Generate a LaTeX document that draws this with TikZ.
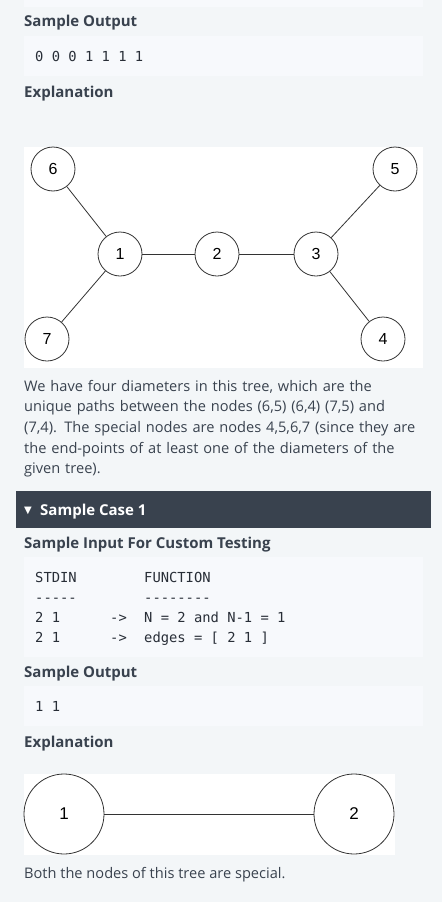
\documentclass[tikz,border=0pt]{standalone}
\usepackage{fontspec}
\usepackage{xcolor}
\setmainfont{Open Sans}
\setmonofont{DejaVu Sans Mono}
\newfontfamily\labelfont{Liberation Sans}
\newfontfamily\symfont{DejaVu Sans}
\usetikzlibrary{positioning}
\definecolor{PageBg}{HTML}{F3F6F8}
\definecolor{CodeBg}{HTML}{F7F9FC}
\definecolor{InkGray}{HTML}{39424E}
\definecolor{EdgeGray}{HTML}{333333}
\tikzset{
  heading/.style={anchor=base west, inner sep=0pt, text=InkGray,
                  font=\fontsize{15}{18}\selectfont\bfseries},
  bodytext/.style={anchor=base west, inner sep=0pt, text=InkGray,
                   font=\fontsize{14.6}{20.7}\selectfont},
  codetext/.style={anchor=base west, inner sep=0pt, text=InkGray!70!black,
                   font=\ttfamily\fontsize{13.8}{20}\selectfont},
  codebox/.style={fill=CodeBg, draw=none},
  vertex/.style={circle, draw=EdgeGray, line width=0.8pt, fill=white,
                 minimum size=44pt, inner sep=0pt,
                 font=\labelfont\fontsize{16}{16}\selectfont},
  bigvertex/.style={vertex, minimum size=80pt,
                    font=\labelfont\fontsize{17}{17}\selectfont},
  edge/.style={draw=EdgeGray, line width=0.8pt}
}

\begin{document}
\begin{tikzpicture}[x=1pt, y=-1pt]
\fill[PageBg] (0,0) rectangle (442,902);
\useasboundingbox (0,0) rectangle (442,902);

\fill[codebox] (24,0) rectangle (423,7);
\node[heading] (outhead) at (24,27) {Sample Output};
\fill[codebox] (24,36) rectangle (423,76);
\node[codetext] (outcode) at (35,61) {0 0 0 1 1 1 1};
\node[heading] (explhead) at (24,97) {Explanation};

\fill[white] (24,147) rectangle (423,368);
\node[vertex] (v6) at (53,169) {6};
\node[vertex] (v1) at (120,254) {1};
\node[vertex] (v2) at (217,254) {2};
\node[vertex] (v3) at (316,254) {3};
\node[vertex] (v5) at (395,169) {5};
\node[vertex] (v7) at (47,339) {7};
\node[vertex] (v4) at (383,339) {4};
\draw[edge] (v6) -- (v1);
\draw[edge] (v7) -- (v1);
\draw[edge] (v1) -- (v2);
\draw[edge] (v2) -- (v3);
\draw[edge] (v3) -- (v5);
\draw[edge] (v3) -- (v4);

\node[bodytext, text width=414pt, align=left] (diam) at (24,391) {
    We have four diameters in this tree, which are the\\
    unique paths between the nodes (6,5) (6,4) (7,5) and\\
    (7,4). The special nodes are nodes 4,5,6,7 (since they are\\
    the end-points of at least one of the diameters of the\\
    given tree).};

\fill[InkGray] (16,491) rectangle (431,528);
\node[anchor=base west, inner sep=0pt, text=white,
      font=\symfont\fontsize{10}{10}\selectfont] (caret) at (24,513) {▼};
\node[heading, text=white] (casehead) at (40,515) {Sample Case 1};

\node[heading] (inhead) at (24,548) {Sample Input For Custom Testing};
\fill[codebox] (24,557) rectangle (423,657);
\node[codetext] (stdin) at (35,582) {STDIN};
\node[codetext] (func) at (144,582) {FUNCTION};
\node[codetext] (rulea) at (35,602) {-{}-{}-{}-{}-};
\node[codetext] (ruleb) at (144,602) {-{}-{}-{}-{}-{}-{}-{}-};
\node[codetext] (ina) at (35,622) {2 1};
\node[codetext] (arra) at (110,622) {->};
\node[codetext] (funa) at (144,622) {N = 2 and N-1 = 1};
\node[codetext] (inb) at (35,642) {2 1};
\node[codetext] (arrb) at (110,642) {->};
\node[codetext] (funb) at (144,642) {edges = [ 2 1 ]};

\node[heading] (outhead2) at (24,677) {Sample Output};
\fill[codebox] (24,686) rectangle (423,726);
\node[codetext] (outcode2) at (35,711) {1 1};
\node[heading] (explhead2) at (24,747) {Explanation};

\fill[white] (24,774) rectangle (395,855);
\node[bigvertex] (w1) at (64,814) {1};
\node[bigvertex] (w2) at (354,814) {2};
\draw[edge] (w1) -- (w2);

\node[bodytext] (special) at (24,878) {Both the nodes of this tree are special.};
\end{tikzpicture}
\end{document}
